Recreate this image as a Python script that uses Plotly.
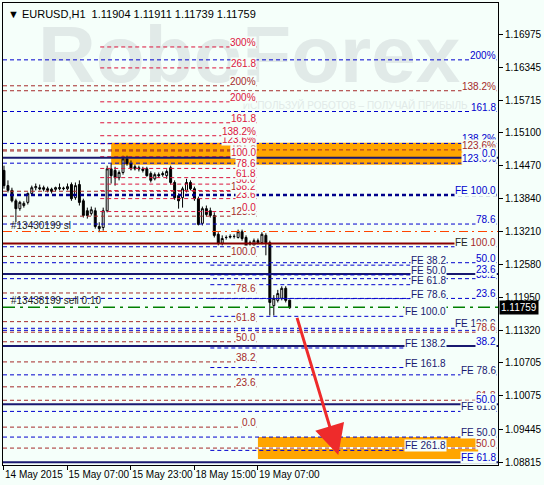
import plotly.graph_objects as go

# ---- price data (H1 bars, 14-19 May 2015) ----
bar_open = [1.1438, 1.1409, 1.1400, 1.1380, 1.1365, 1.1371, 1.1377, 1.1394, 1.1405, 1.1405,
            1.1405, 1.1403, 1.1402, 1.1402, 1.1403, 1.1403, 1.1403, 1.1411, 1.1386, 1.1411,
            1.1380, 1.1361, 1.1356, 1.1361, 1.1331, 1.1329, 1.1361, 1.1441, 1.1438, 1.1424,
            1.1434, 1.1460, 1.1451, 1.1445, 1.1443, 1.1441, 1.1441, 1.1432, 1.1422, 1.1430,
            1.1432, 1.1428, 1.1443, 1.1415, 1.1390, 1.1386, 1.1400, 1.1415, 1.1403, 1.1384,
            1.1337, 1.1365, 1.1361, 1.1352, 1.1316, 1.1299, 1.1310, 1.1312, 1.1312, 1.1310,
            1.1321, 1.1310, 1.1300, 1.1295, 1.1304, 1.1300, 1.1314, 1.1300, 1.1180, 1.1190,
            1.1194, 1.1213, 1.11904]
bar_high = [1.1447, 1.1419, 1.1405, 1.1384, 1.1380, 1.1379, 1.1396, 1.1409, 1.1413, 1.1411,
            1.1409, 1.1407, 1.1405, 1.1407, 1.1413, 1.1407, 1.1413, 1.1415, 1.1415, 1.1419,
            1.1384, 1.1367, 1.1369, 1.1367, 1.1339, 1.1367, 1.1447, 1.1451, 1.1445, 1.1438,
            1.1466, 1.1466, 1.1457, 1.1449, 1.1447, 1.1445, 1.1445, 1.1436, 1.1434, 1.1434,
            1.1436, 1.1440, 1.1447, 1.1419, 1.1394, 1.1407, 1.1422, 1.1419, 1.1407, 1.1388,
            1.1369, 1.1371, 1.1367, 1.1358, 1.1320, 1.1314, 1.1314, 1.1316, 1.1316, 1.1325,
            1.1325, 1.1314, 1.1304, 1.1308, 1.1308, 1.1320, 1.1318, 1.1304, 1.1200, 1.1210,
            1.1217, 1.1217, 1.11911]
bar_low = [1.1403, 1.1396, 1.1377, 1.1340, 1.1361, 1.1367, 1.1373, 1.1390, 1.1400, 1.1400,
           1.1398, 1.1396, 1.1394, 1.1398, 1.1400, 1.1400, 1.1400, 1.1380, 1.1382, 1.1371,
           1.1348, 1.1346, 1.1352, 1.1327, 1.1320, 1.1323, 1.1358, 1.1413, 1.1409, 1.1419,
           1.1430, 1.1447, 1.1438, 1.1438, 1.1436, 1.1434, 1.1426, 1.1415, 1.1419, 1.1424,
           1.1426, 1.1422, 1.1411, 1.1382, 1.1365, 1.1367, 1.1396, 1.1400, 1.1380, 1.1333,
           1.1333, 1.1350, 1.1348, 1.1310, 1.1295, 1.1295, 1.1306, 1.1308, 1.1308, 1.1308,
           1.1304, 1.1287, 1.1293, 1.1291, 1.1297, 1.1297, 1.1276, 1.1161, 1.1161, 1.1186,
           1.1190, 1.1186, 1.11739]
bar_close = [1.1409, 1.1400, 1.1380, 1.1365, 1.1377, 1.1375, 1.1394, 1.1405, 1.1407, 1.1403,
             1.1402, 1.1400, 1.1398, 1.1405, 1.1405, 1.1404, 1.1407, 1.1384, 1.1409, 1.1377,
             1.1352, 1.1352, 1.1363, 1.1331, 1.1327, 1.1361, 1.1441, 1.1428, 1.1424, 1.1434,
             1.1460, 1.1451, 1.1441, 1.1441, 1.1441, 1.1438, 1.1428, 1.1419, 1.1430, 1.1428,
             1.1430, 1.1436, 1.1415, 1.1386, 1.1380, 1.1403, 1.1415, 1.1403, 1.1384, 1.1335,
             1.1365, 1.1354, 1.1352, 1.1314, 1.1299, 1.1308, 1.1310, 1.1311, 1.1312, 1.1321,
             1.1308, 1.1291, 1.1298, 1.1304, 1.1300, 1.1316, 1.1300, 1.1186, 1.1194, 1.1203,
             1.1213, 1.1190, 1.11759]

time_tick_bars = [0, 16, 32, 48, 64]
time_tick_labels = ["14 May 2015", "15 May 07:00", "15 May 23:00", "18 May 15:00", "19 May 07:00"]
price_ticks = [1.16975, 1.16345, 1.15715, 1.15100, 1.14470, 1.13840, 1.13210,
               1.12580, 1.11950, 1.11320, 1.10705, 1.10075, 1.09445, 1.08815]
last_price = 1.11759

# ---- fibonacci tools: (zero price, 100% price), levels and their captions ----
r1_zero, r1_hundred = 1.09481, 1.12738
r1_levels = [0, 23.6, 38.2, 50, 61.8, 78.6, 100, 123.6, 138.2, 161.8, 200]
r1_labels = ["0.0", "23.6", "38.2", "50.0", "61.8", "78.6", "100.0", "123.6", "138.2", "161.8", "200%"]

r2_zero, r2_hundred = 1.13595, 1.14642
r2_levels = [0, 23.6, 38.2, 50, 61.8, 78.6, 100, 123.6, 138.2, 161.8, 200, 261.8, 300]
r2_labels = ["0.0", "23.6", "38.2", "50.0", "61.8", "78.6", "100.0", "123.6%", "138.2%",
             "161.8", "200%", "261.8", "300%"]

b1_zero, b1_hundred = 1.11328, 1.13909
b1_levels = [0, 23.6, 38.2, 50, 61.8, 78.6, 100, 123.6, 138.2, 161.8, 200]
b1_labels = ["0.0", "23.6", "38.2", "50.0", "61.8", "78.6", "FE 100.0", "123.6%", "138.2%", "161.8", "200%"]

e2_zero, e2_hundred = 1.07215, 1.11367
e2_levels = [50, 61.8, 78.6, 100]
e2_labels = ["FE 50.0", "FE 61.8", "FE 78.6", "FE 100.0"]

b3_zero, b3_hundred = 1.05215, 1.12947
b3_levels = [50, 61.8, 78.6, 123.6, 138.2]
b3_labels = ["50.0", "61.8", "78.6", "123.6%", "138.2%"]

b2_zero, b2_hundred = 1.14623, 1.05215
b2_levels = [0, 23.6, 38.2, 50, 61.8]
b2_labels = ["0.0", "23.6", "38.2", "50.0", "FE 61.8"]

e1_zero, e1_hundred = 1.13176, 1.11595
e1_levels = [38.2, 50, 61.8, 78.6, 100, 138.2, 161.8, 261.8]
e1_labels = ["FE 38.2", "FE 50.0", "FE 61.8", "FE 78.6", "FE 100.0", "FE 138.2", "FE 161.8", "FE 261.8"]

fe_main_price = 1.12985
stop_price = 1.13214
order_price = 1.11767

BG = "#F5FFFA"
BLUE = "#0000CD"
NAVY = "#191970"
CRIMSON = "#DC143C"
BROWN = "#A52A2A"
FONT = "Liberation Sans, Arial, sans-serif"
LBL = 10

shapes = []
annotations = []


def level_price(zero, hundred, lvl):
    return zero + (hundred - zero) * lvl / 100.0


def add_fib(zero, hundred, levels, labels, color, label_color, x0=None, x1=None,
            width=1, dash="4px,3px"):
    for lvl, lab in zip(levels, labels):
        p = level_price(zero, hundred, lvl)
        if x0 is None:
            shapes.append(dict(type="line", xref="paper", yref="y", x0=0, x1=1, y0=p, y1=p,
                               line=dict(color=color, width=width, dash=dash)))
            annotations.append(dict(xref="paper", yref="y", x=1, y=p, xshift=-1, yshift=-2,
                                    text=lab, showarrow=False, xanchor="right", yanchor="bottom",
                                    font=dict(size=LBL, color=label_color, family=FONT),
                                    bgcolor=BG, borderpad=0))
        else:
            shapes.append(dict(type="line", xref="x", yref="y", x0=x0, x1=x1, y0=p, y1=p,
                               line=dict(color=color, width=width, dash=dash)))
            annotations.append(dict(xref="x", yref="y", x=x1, y=p, yshift=-2,
                                    text=lab, showarrow=False, xanchor="right", yanchor="bottom",
                                    font=dict(size=LBL, color=label_color, family=FONT),
                                    bgcolor=BG, borderpad=0))


# orange target zones
shapes.append(dict(type="rect", xref="x", yref="y", x0=27, x1=115.5, y0=1.14490, y1=1.14909,
                   fillcolor="#FFA500", line=dict(width=0), layer="below"))
shapes.append(dict(type="rect", xref="x", yref="y", x0=64, x1=119.5, y0=1.09100, y1=1.09291,
                   fillcolor="#FFA500", line=dict(width=0), layer="below"))
shapes.append(dict(type="rect", xref="x", yref="y", x0=64, x1=119.5, y0=1.08872, y1=1.09062,
                   fillcolor="#FFA500", line=dict(width=0), layer="below"))

add_fib(r1_zero, r1_hundred, r1_levels, r1_labels, BROWN, BROWN, x0=-0.25, x1=63.75)
add_fib(r2_zero, r2_hundred, r2_levels, r2_labels, CRIMSON, CRIMSON, x0=24.25, x1=63.75)
add_fib(b1_zero, b1_hundred, b1_levels, b1_labels, BLUE, BLUE)
# main FE 100 level drawn bold
p100 = level_price(b1_zero, b1_hundred, 100)
shapes.append(dict(type="line", xref="paper", yref="y", x0=0, x1=1, y0=p100, y1=p100,
                   line=dict(color="#00008B", width=2.5, dash="4px,3px")))
add_fib(e2_zero, e2_hundred, e2_levels, e2_labels, BLUE, NAVY)
add_fib(b3_zero, b3_hundred, b3_levels, b3_labels, BROWN, BROWN)
add_fib(b2_zero, b2_hundred, b2_levels, b2_labels, NAVY, BLUE, width=2, dash="solid")
add_fib(e1_zero, e1_hundred, e1_levels, e1_labels, BLUE, NAVY, x0=52, x1=111.75)

# FE 100 solid dark red line
shapes.append(dict(type="line", xref="x", yref="y", x0=-0.25, x1=114.5, y0=fe_main_price,
                   y1=fe_main_price, line=dict(color="#8B0000", width=2)))
annotations.append(dict(xref="paper", yref="y", x=1, y=fe_main_price, xshift=-1, yshift=1,
                        text="<span style='color:#222'>FE</span> 100.0", showarrow=False,
                        xanchor="right", yanchor="middle", bgcolor=BG, borderpad=0,
                        font=dict(size=LBL, color=BROWN, family=FONT)))

# trade lines
shapes.append(dict(type="line", xref="paper", yref="y", x0=0, x1=1, y0=stop_price, y1=stop_price,
                   line=dict(color="#FF4500", width=1, dash="9px,4px,2px,4px")))
annotations.append(dict(xref="paper", yref="y", x=0, y=stop_price, xshift=6, yshift=-1,
                        text="#13430199 sl", showarrow=False, xanchor="left", yanchor="bottom",
                        font=dict(size=LBL, color="#222222", family=FONT)))
shapes.append(dict(type="line", xref="paper", yref="y", x0=0, x1=1, y0=order_price, y1=order_price,
                   line=dict(color="#008000", width=1.5, dash="12px,5px,3px,5px")))
annotations.append(dict(xref="paper", yref="y", x=0, y=order_price, xshift=6, yshift=-1,
                        text="#13438199 sell 0.10", showarrow=False, xanchor="left", yanchor="bottom",
                        font=dict(size=LBL, color="#222222", family=FONT)))

# forecast arrow
annotations.append(dict(xref="x", yref="y", axref="x", ayref="y", x=84.25, y=1.08948,
                        ax=73.75, ay=1.11595, text="", showarrow=True, arrowhead=2,
                        arrowsize=2, arrowwidth=3, arrowcolor="#EE2B2B"))

# header
annotations.append(dict(xref="paper", yref="paper", x=0, y=1, xshift=3, yshift=-3,
                        text="▼ EURUSD,H1  1.11904 1.11911 1.11739 1.11759", showarrow=False,
                        xanchor="left", yanchor="top", font=dict(size=11, color="#000", family=FONT)))

# last price tag
annotations.append(dict(xref="paper", yref="y", x=1, y=last_price, xshift=1, text=f"{last_price:.5f}",
                        showarrow=False, xanchor="left", yanchor="middle", bgcolor="#000000",
                        borderpad=1, font=dict(size=10, color="#FFFFFF", family=FONT)))

fig = go.Figure()

# watermark behind everything
fig.add_trace(go.Scatter(x=[61.75], y=[1.16450], mode="text", text=["RoboForex"],
                         textposition="middle center", hoverinfo="skip", showlegend=False,
                         textfont=dict(size=80, color="#E1EAE8", family=FONT, weight="bold")))
fig.add_trace(go.Scatter(x=[88.5], y=[1.15594], mode="text",
                         text=["ИСПОЛЬЗУЙ РОБОТОВ – ПОЛУЧАЙ ПРИБЫЛЬ"],
                         textposition="middle center", hoverinfo="skip", showlegend=False,
                         textfont=dict(size=10, color="#E1EAE8", family=FONT)))

fig.add_trace(go.Candlestick(
    x=list(range(len(bar_open))), open=bar_open, high=bar_high, low=bar_low, close=bar_close,
    increasing=dict(line=dict(color="#000000", width=1), fillcolor="#FFFFFF"),
    decreasing=dict(line=dict(color="#000000", width=1), fillcolor="#000000"),
    whiskerwidth=0, showlegend=False, hoverinfo="skip",
))

fig.update_layout(
    width=544, height=485,
    margin=dict(l=2, r=43, t=2, b=20),
    paper_bgcolor=BG, plot_bgcolor=BG,
    shapes=shapes, annotations=annotations,
    showlegend=False,
    font=dict(family=FONT, size=10, color="#000"),
    xaxis=dict(range=[-0.25, 124.5], rangeslider=dict(visible=False), showgrid=False,
               zeroline=False, tickvals=time_tick_bars, ticktext=time_tick_labels,
               ticks="outside", ticklen=4, tickcolor="#000", ticklabelposition="outside right",
               tickangle=0, showline=True, linecolor="#000", linewidth=1, mirror=True,
               tickfont=dict(size=10, family=FONT, color="#000")),
    yaxis=dict(range=[1.08758, 1.17575], side="right", showgrid=False, zeroline=False,
               tickvals=price_ticks, ticktext=[f"{v:.5f}" for v in price_ticks],
               ticks="outside", ticklen=4, tickcolor="#000",
               showline=True, linecolor="#000", linewidth=1, mirror=True,
               tickfont=dict(size=10, family=FONT, color="#000")),
)

fig.write_html("out.html", config={"displayModeBar": False},
               post_script="document.body.style.margin='0';")
